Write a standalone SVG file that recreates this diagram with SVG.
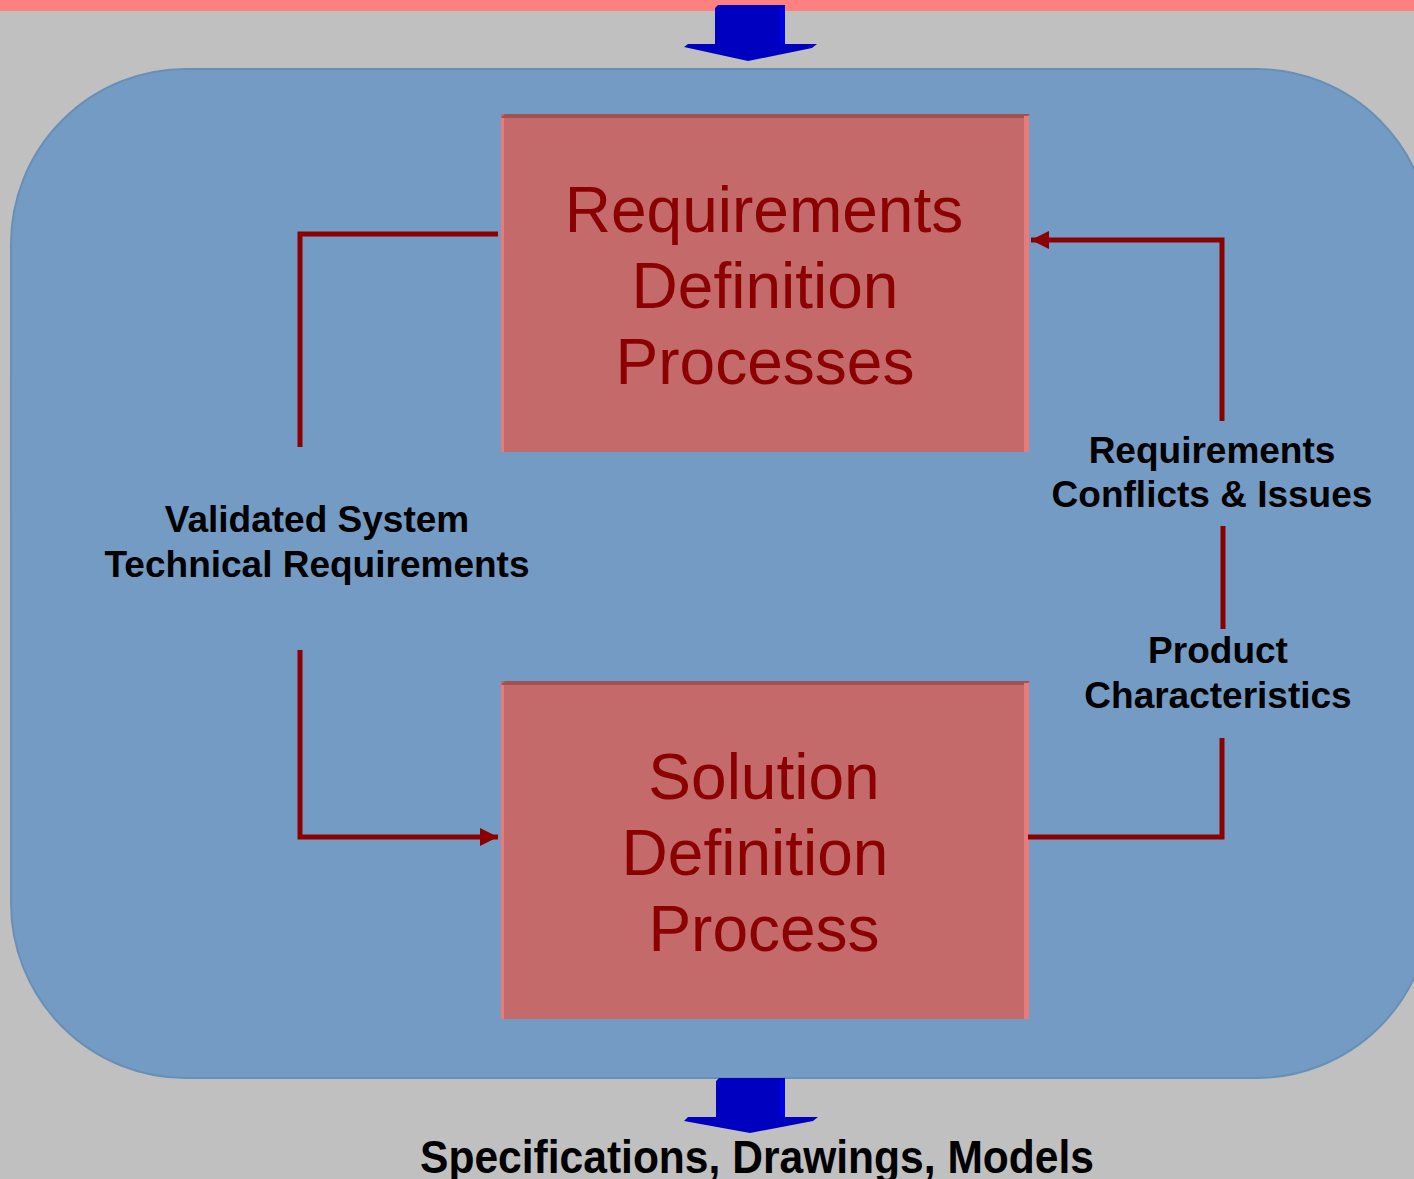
<svg xmlns="http://www.w3.org/2000/svg" width="1414" height="1179" viewBox="0 0 1414 1179">
  <style>
    .proc { fill: #c56a6a; }
    .proc-top { fill: #a05252; }
    .proc-side { fill: #e87a7a; }
    .proc-text { font-family: "Liberation Sans", Arial, sans-serif; font-size: 64px; fill: #8b0000; text-anchor: middle; }
    .flow { fill: none; stroke: #8b0000; stroke-width: 5; }
    .label { font-family: "Liberation Sans", Arial, sans-serif; font-size: 37px; font-weight: bold; fill: #000; text-anchor: middle; }
    .caption { font-family: "Liberation Sans", Arial, sans-serif; font-size: 46px; font-weight: bold; fill: #000; text-anchor: middle; }
    .big-arrow { fill: #0000c0; }
    .big-arrow-edge { fill: #0000e6; }
  </style>
  <defs>
    <marker id="head" viewBox="0 0 10 10" refX="10" refY="5" markerWidth="3.6" markerHeight="3.6" orient="auto" markerUnits="strokeWidth">
      <path d="M0,0 L10,5 L0,10 Z" fill="#8b0000"/>
    </marker>
  </defs>

  <!-- backdrop -->
  <rect x="0" y="0" width="1414" height="1179" fill="#c0c0c0"/>
  <rect x="0" y="0" width="1414" height="11" fill="#ff8080"/>

  <!-- input arrow -->
  <g id="arrow-in">
    <path class="big-arrow" d="M718,5 L785,5 L785,44 L817,44 L812,48 L748,61 L684,47 L688,44 L715,44 L715,8 Z"/>
    <rect class="big-arrow-edge" x="780" y="8" width="5" height="36"/>
  </g>

  <!-- enclosing process area -->
  <g id="area">
    <rect x="11" y="69" width="1420" height="1009" rx="175" ry="175" fill="#749bc3" stroke="#6a8fb6" stroke-width="2"/>
  </g>

  <!-- output arrow -->
  <g id="arrow-out">
    <path class="big-arrow" d="M719,1078 L785,1078 L785,1117 L818,1117 L813,1121 L750,1133 L684,1121 L688,1117 L716,1117 L716,1081 Z"/>
    <rect class="big-arrow-edge" x="780" y="1080" width="5" height="37"/>
  </g>

  <!-- requirements definition node -->
  <g id="req-def">
    <rect class="proc" x="501" y="114" width="527" height="338"/>
    <polygon class="proc-top" points="501,118 505,114 1030,114 1026,118"/>
    <rect class="proc-side" x="1024" y="116" width="5" height="336"/>
    <rect class="proc-side" x="501" y="118" width="3" height="334"/>
    <text class="proc-text" x="764" y="232">Requirements</text>
    <text class="proc-text" x="765" y="308">Definition</text>
    <text class="proc-text" x="765" y="384">Processes</text>
  </g>

  <!-- solution definition node -->
  <g id="sol-def">
    <rect class="proc" x="501" y="681" width="527" height="338"/>
    <polygon class="proc-top" points="501,685 505,681 1030,681 1026,685"/>
    <rect class="proc-side" x="1024" y="683" width="5" height="336"/>
    <rect class="proc-side" x="501" y="685" width="3" height="334"/>
    <text class="proc-text" x="764" y="799">Solution</text>
    <text class="proc-text" x="755" y="875">Definition</text>
    <text class="proc-text" x="764" y="951">Process</text>
  </g>

  <!-- flows between the nodes -->
  <g id="connectors">
    <path class="flow" d="M498,234 L300,234 L300,447"/>
    <path class="flow" d="M300,650 L300,837 L498,837" marker-end="url(#head)"/>
    <path class="flow" d="M1028,837 L1222,837 L1222,738"/>
    <path class="flow" d="M1223,526 L1223,629"/>
    <path class="flow" d="M1222,421 L1222,240 L1031,240" marker-end="url(#head)"/>
  </g>

  <!-- flow labels -->
  <g id="labels">
    <text class="label" x="317" y="532">Validated System</text>
    <text class="label" x="317" y="577">Technical Requirements</text>
    <text class="label" x="1212" y="463">Requirements</text>
    <text class="label" x="1212" y="507">Conflicts &amp; Issues</text>
    <text class="label" x="1218" y="663">Product</text>
    <text class="label" x="1218" y="708">Characteristics</text>
    <text class="caption" x="757" y="1173" textLength="674" lengthAdjust="spacingAndGlyphs">Specifications, Drawings, Models</text>
  </g>
</svg>
